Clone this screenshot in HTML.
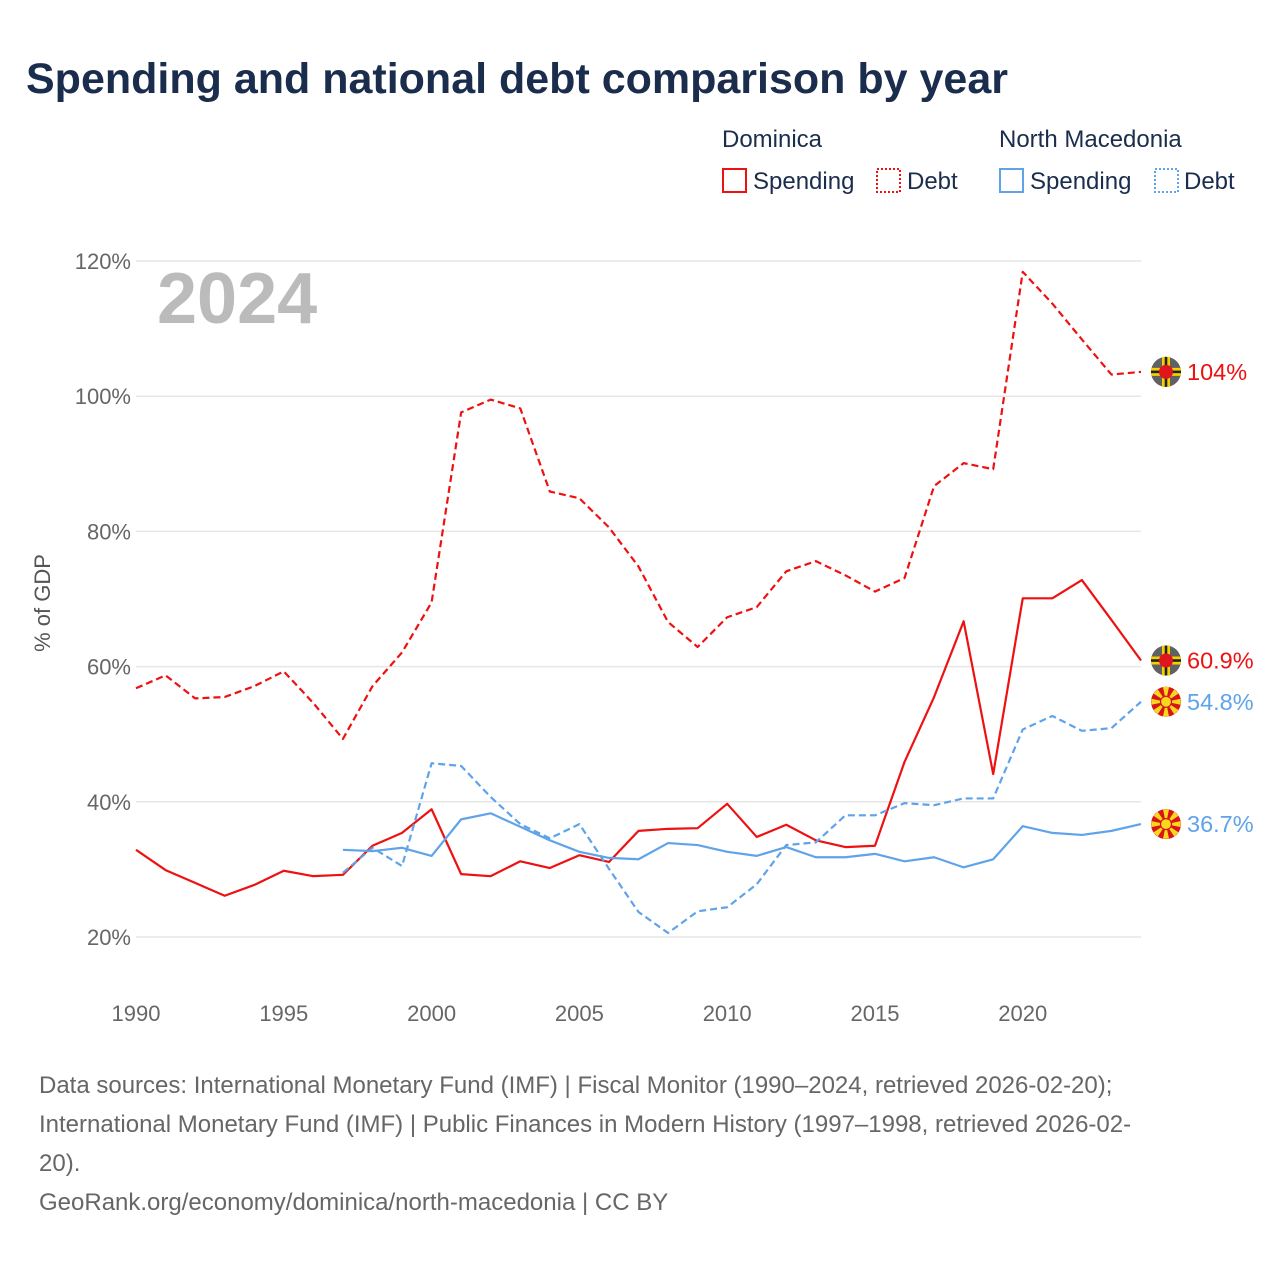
<!DOCTYPE html>
<html><head><meta charset="utf-8">
<style>
body{margin:0;background:#fff;width:1280px;height:1280px;overflow:hidden;font-family:"Liberation Sans",sans-serif;}
svg text{font-family:"Liberation Sans",sans-serif;}
</style></head>
<body>
<svg id="chart" width="1280" height="1280" viewBox="0 0 1280 1280">
<text x="26" y="93" font-size="43" font-weight="bold" fill="#1b2d4d">Spending and national debt comparison by year</text>
<g>
<text x="722" y="147" font-size="24" fill="#1b2d4d">Dominica</text>
<text x="999" y="147" font-size="24" fill="#1b2d4d">North Macedonia</text>
<g><rect x="723" y="169" width="23" height="23" fill="none" stroke="#ee1111" stroke-width="2"/><text x="753" y="189" font-size="24" fill="#1b2d4d">Spending</text></g>
<g><rect x="877" y="169" width="23" height="23" fill="none" stroke="#ee1111" stroke-width="2" stroke-dasharray="2,2"/><text x="907" y="189" font-size="24" fill="#1b2d4d">Debt</text></g>
<g><rect x="1000" y="169" width="23" height="23" fill="none" stroke="#5fa3ea" stroke-width="2"/><text x="1030" y="189" font-size="24" fill="#1b2d4d">Spending</text></g>
<g><rect x="1155" y="169" width="23" height="23" fill="none" stroke="#5fa3ea" stroke-width="2" stroke-dasharray="2,2"/><text x="1184" y="189" font-size="24" fill="#1b2d4d">Debt</text></g>
</g>
<text x="157" y="323" font-size="72" font-weight="bold" fill="#bbbbbb">2024</text>
<text transform="translate(50,603) rotate(-90)" text-anchor="middle" font-size="22" fill="#555">% of GDP</text>
<g id="grid"></g><g id="series"></g><g id="labels"></g>
<g font-size="24" fill="#666">
<text x="39" y="1093">Data sources: International Monetary Fund (IMF) | Fiscal Monitor (1990–2024, retrieved 2026-02-20);</text>
<text x="39" y="1132">International Monetary Fund (IMF) | Public Finances in Modern History (1997–1998, retrieved 2026-02-</text>
<text x="39" y="1171">20).</text>
<text x="39" y="1210">GeoRank.org/economy/dominica/north-macedonia | CC BY</text>
</g>
</svg>
<script>
const yTicks=[20,40,60,80,100,120];
const xTicks=[1990,1995,2000,2005,2010,2015,2020];
const domDebtYears=[1990,1991,1992,1993,1994,1995,1996,1997,1998,1999,2000,2001,2002,2003,2004,2005,2006,2007,2008,2009,2010,2011,2012,2013,2014,2015,2016,2017,2018,2019,2020,2021,2022,2023,2024];
const domDebt=[56.8,58.7,55.3,55.5,57.1,59.3,54.6,49.3,57.1,62.1,69.5,97.6,99.5,98.2,85.9,84.9,80.6,74.8,66.6,62.9,67.3,68.8,74.1,75.6,73.5,71.1,73.1,86.7,90.1,89.2,118.4,113.7,108.4,103.2,103.6];
const domSpend=[32.9,29.9,28.0,26.1,27.7,29.8,29.0,29.2,33.5,35.4,38.9,29.3,29.0,31.2,30.2,32.1,31.1,35.7,36.0,36.1,39.7,34.8,36.6,34.3,33.3,33.5,45.9,55.5,66.7,44.1,70.1,70.1,72.8,66.9,60.9];
const mkdYears=[1997,1998,1999,2000,2001,2002,2003,2004,2005,2006,2007,2008,2009,2010,2011,2012,2013,2014,2015,2016,2017,2018,2019,2020,2021,2022,2023,2024];
const mkdSpend=[32.9,32.7,33.2,32.0,37.4,38.3,36.3,34.3,32.6,31.7,31.5,33.9,33.6,32.6,32.0,33.3,31.8,31.8,32.3,31.2,31.8,30.3,31.5,36.4,35.4,35.1,35.7,36.7];
const mkdDebt=[29.5,33.2,30.5,45.7,45.3,40.7,36.7,34.6,36.7,30.1,23.7,20.6,23.8,24.4,27.8,33.6,34.0,38.0,38.0,39.8,39.5,40.5,40.5,50.7,52.7,50.5,50.9,54.8];
const endLabels=["104%","60.9%","54.8%","36.7%"];

const X=y=>136+(y-1990)*(1141-136)/34;
const Y=v=>937-(v-20)*(937-261)/100;
const NS="http://www.w3.org/2000/svg";
function mk(tag,attrs,parent){const e=document.createElementNS(NS,tag);for(const k in attrs)e.setAttribute(k,attrs[k]);parent.appendChild(e);return e;}
const grid=document.getElementById('grid');
yTicks.forEach(t=>{
 const l=mk('line',{x1:136,x2:1141,y1:Y(t),y2:Y(t),stroke:'#e6e6e6','stroke-width':1.5},grid);
 
 
 const tx=mk('text',{x:131,y:Y(t)+8,'text-anchor':'end','font-size':22,fill:'#666'},grid);
 tx.textContent=t+'%';
 
 
});
xTicks.forEach(t=>{
 const tx=mk('text',{x:X(t),y:1021,'text-anchor':'middle','font-size':22,fill:'#666'},grid);
 tx.textContent=t;
 
 
});
const ser=document.getElementById('series');
function line(years,vals,color,dash,name){
 const p=mk('polyline',{points:years.map((y,i)=>X(y)+','+Y(vals[i])).join(' '),fill:'none',stroke:color,'stroke-width':2.2,'stroke-dasharray':dash,'stroke-linejoin':'round'},ser);
 
 
}
line(domDebtYears,domDebt,'#ee1111','7,4','line-dominica-debt');
line(domDebtYears,domSpend,'#ee1111','none','line-dominica-spending');
line(mkdYears,mkdDebt,'#5fa3ea','7,4','line-macedonia-debt');
line(mkdYears,mkdSpend,'#5fa3ea','none','line-macedonia-spending');
const lab=document.getElementById('labels');
function flag(v,kind,txt,color,name){
 const cy=Y(v),cx=1166;
 const g=mk('g',{},lab);
 
 
 if(kind==='dm'){
  mk('circle',{cx,cy,r:15,fill:'#5f6163'},g);
  mk('rect',{x:cx-15,y:cy-4,width:30,height:8,fill:'#f5d000'},g);
  mk('rect',{x:cx-4,y:cy-15,width:8,height:30,fill:'#f5d000'},g);
  mk('rect',{x:cx-15,y:cy-1.3,width:30,height:2.6,fill:'#222'},g);
  mk('rect',{x:cx-1.3,y:cy-15,width:2.6,height:30,fill:'#222'},g);
  mk('circle',{cx,cy,r:7,fill:'#e0141e'},g);
 }else{
  mk('circle',{cx,cy,r:15,fill:'#d8141a'},g);
  for(let a=0;a<8;a++){const an=a*Math.PI/4,d=0.2;
   mk('polygon',{points:`${cx},${cy} ${cx+15*Math.cos(an-d)},${cy+15*Math.sin(an-d)} ${cx+15*Math.cos(an+d)},${cy+15*Math.sin(an+d)}`,fill:'#f8d81c'},g);}
  mk('circle',{cx,cy,r:5.5,fill:'#f8d81c',stroke:'#d8141a','stroke-width':1.2},g);
 }
 const t=mk('text',{x:1187,y:cy+8,'font-size':23.5,fill:color},g);
 t.textContent=txt;
}
flag(domDebt[domDebt.length-1],'dm',endLabels[0],'#ee1111','end-label-dominica-debt');
flag(domSpend[domSpend.length-1],'dm',endLabels[1],'#ee1111','end-label-dominica-spending');
flag(mkdDebt[mkdDebt.length-1],'mk',endLabels[2],'#5fa3ea','end-label-macedonia-debt');
flag(mkdSpend[mkdSpend.length-1],'mk',endLabels[3],'#5fa3ea','end-label-macedonia-spending');
</script>
</body></html>
